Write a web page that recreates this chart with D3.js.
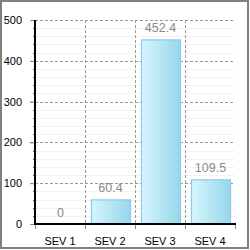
<!DOCTYPE html>
<html><head><meta charset="utf-8">
<script src="https://cdn.jsdelivr.net/npm/d3@7"></script>
<style>html,body{margin:0;padding:0;background:#fff;}svg{display:block;}</style>
</head><body>
<svg id="c" width="250" height="250"></svg>
<script>
const categories = ["SEV 1", "SEV 2", "SEV 3", "SEV 4"];
const values = [0, 60.4, 452.4, 109.5];
const yTicks = [0, 100, 200, 300, 400, 500];

const svg = d3.select("#c");
const W = 250, H = 250;
const m = {left: 35, right: 15, top: 20, bottom: 26};
const x = d3.scaleBand().domain(categories).range([m.left, W - m.right]).paddingInner(0).paddingOuter(0);
const y = d3.scaleLinear().domain([0, 500]).range([H - m.bottom, m.top]);
const font = "'Liberation Sans', Arial, sans-serif";

svg.append("rect").attr("x", 1).attr("y", 1).attr("width", 247).attr("height", 247)
  .attr("fill", "#fff").attr("stroke", "#808080").attr("stroke-width", 2);

const defs = svg.append("defs");
const g = defs.append("linearGradient").attr("id", "bg").attr("x1", "0").attr("x2", "1").attr("y1", "0").attr("y2", "0");
g.append("stop").attr("offset", "0").attr("stop-color", "#d6f6fd");
g.append("stop").attr("offset", "1").attr("stop-color", "#96d6ea");

// minor grid
const minor = d3.range(0, 501, 20).filter(v => v % 100 !== 0);
svg.append("g").selectAll("line").data(minor).join("line")
  .attr("x1", m.left).attr("x2", W - m.right)
  .attr("y1", d => Math.round(y(d)) + 0.5).attr("y2", d => Math.round(y(d)) + 0.5)
  .attr("stroke", "#f2f2f2").attr("stroke-width", 1);

// major horizontal grid (dashed)
svg.append("g").selectAll("line").data(yTicks.filter(v => v > 0)).join("line")
  .attr("x1", m.left - 5).attr("x2", W - m.right)
  .attr("y1", d => Math.round(y(d)) + 0.5).attr("y2", d => Math.round(y(d)) + 0.5)
  .attr("stroke", "#999").attr("stroke-width", 1).attr("stroke-dasharray", "3,2");

// vertical dashed grid at band boundaries
const bounds = categories.slice(1).map(c => x(c));
svg.append("g").selectAll("line").data(bounds).join("line")
  .attr("x1", d => d + 0.5).attr("x2", d => d + 0.5)
  .attr("y1", m.top).attr("y2", y(0))
  .attr("stroke", "#999").attr("stroke-width", 1).attr("stroke-dasharray", "3,2");

// bars
const bw = x.bandwidth();
svg.append("g").selectAll("rect").data(values).join("rect")
  .attr("x", (d, i) => x(categories[i]) + 6.5)
  .attr("width", bw - 11)
  .attr("y", d => y(d) + 0.5)
  .attr("height", d => Math.max(0, y(0) - y(d) - 0.5))
  .attr("fill", "url(#bg)")
  .attr("stroke", d => d > 0 ? "#8ec8ee" : "none").attr("stroke-width", 1.2);

// value labels
svg.append("g").selectAll("text").data(values).join("text")
  .attr("x", (d, i) => x(categories[i]) + bw / 2 + 0.5)
  .attr("y", d => y(d) - 7.5)
  .attr("text-anchor", "middle")
  .attr("font-family", font).attr("font-size", 12.5).attr("fill", "#8a8a8a")
  .text(d => d);

// y axis
const yAxis = svg.append("g").attr("transform", `translate(${m.left},0)`)
  .call(d3.axisLeft(y).tickValues(yTicks).tickSize(5).tickPadding(8));
yAxis.select(".domain").remove();
yAxis.selectAll(".tick line").attr("stroke", "#888");
yAxis.selectAll(".tick text").attr("font-family", font).attr("font-size", 11).attr("fill", "#000");
// minor y ticks
svg.append("g").selectAll("line").data(minor).join("line")
  .attr("x1", m.left - 2).attr("x2", m.left)
  .attr("y1", d => Math.round(y(d)) + 0.5).attr("y2", d => Math.round(y(d)) + 0.5)
  .attr("stroke", "#666");
svg.append("line").attr("x1", m.left).attr("x2", m.left).attr("y1", m.top).attr("y2", y(0) + 1)
  .attr("stroke", "#000").attr("stroke-width", 2);

// x axis
const xTicks = categories.map(c => x(c)).concat([W - m.right]);
svg.append("g").selectAll("line").data(xTicks).join("line")
  .attr("x1", d => d + 0.5).attr("x2", d => d + 0.5)
  .attr("y1", y(0)).attr("y2", y(0) + 5)
  .attr("stroke", "#888");
svg.append("line").attr("x1", m.left - 1).attr("x2", W - m.right + 1).attr("y1", y(0)).attr("y2", y(0))
  .attr("stroke", "#000").attr("stroke-width", 2);
svg.append("g").selectAll("text").data(categories).join("text")
  .attr("x", d => x(d) + bw / 2)
  .attr("y", H - 5)
  .attr("text-anchor", "middle")
  .attr("font-family", font).attr("font-size", 11).attr("fill", "#000")
  .text(d => d);
</script>
</body></html>
